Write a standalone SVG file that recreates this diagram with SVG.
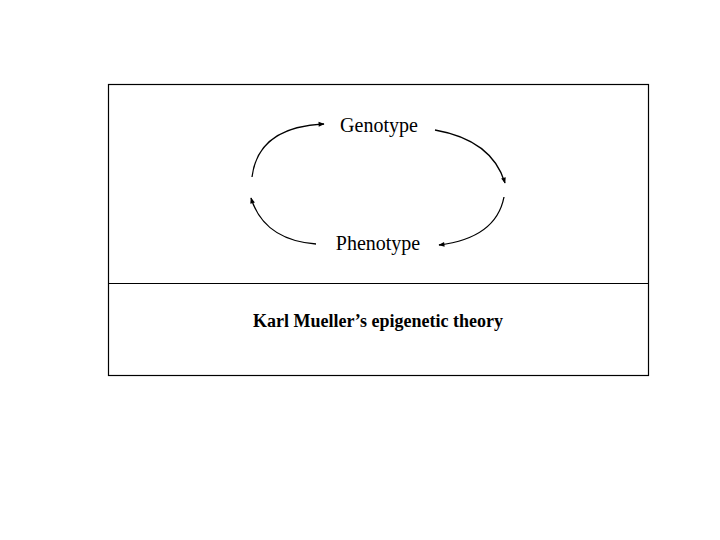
<svg xmlns="http://www.w3.org/2000/svg" width="720" height="540" viewBox="0 0 720 540">
<style>
.t{font-family:"Liberation Serif","Times New Roman",serif;fill:#000}
.c{fill:none;stroke:#000;stroke-width:1.3}
.b{fill:none;stroke:#000;stroke-width:1.2}
</style>
<defs>
<marker id="ah" viewBox="0 0 10 10" refX="9" refY="5" markerWidth="7" markerHeight="6" orient="auto" markerUnits="userSpaceOnUse">
<path d="M0,1 L10,5 L0,9 z" fill="#000"/>
</marker>
</defs>
<rect width="720" height="540" fill="#fff"/>
<g id="frame">
<rect class="b" x="108.5" y="84.5" width="540" height="291"/>
<line class="b" x1="108.5" y1="283.5" x2="648.5" y2="283.5"/>
</g>
<g id="genotype"><text class="t" x="379" y="132" font-size="20" text-anchor="middle">Genotype</text></g>
<g id="phenotype"><text class="t" x="378" y="250" font-size="20" text-anchor="middle">Phenotype</text></g>
<g id="caption"><text class="t" x="378" y="327" font-size="18" font-weight="bold" text-anchor="middle">Karl Mueller’s epigenetic theory</text></g>
<g id="connectors">
<path class="c" d="M252,177 Q258,127 324,124" marker-end="url(#ah)"/>
<path class="c" d="M435,130 Q492,140 505,183" marker-end="url(#ah)"/>
<path class="c" d="M504,197 Q496,238 439,245" marker-end="url(#ah)"/>
<path class="c" d="M316,244 Q264,240 251,198" marker-end="url(#ah)"/>
</g>
</svg>
